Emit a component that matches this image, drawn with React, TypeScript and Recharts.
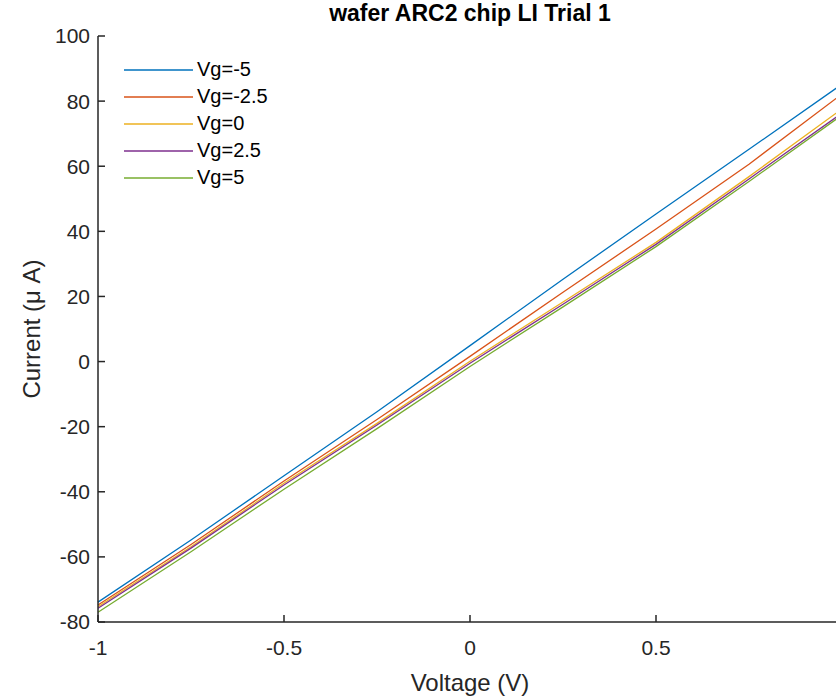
import React from "react";
import { LineChart, Line, XAxis, YAxis } from "recharts";

// gate voltages, one line each
const gateLabels = ["Vg=-5", "Vg=-2.5", "Vg=0", "Vg=2.5", "Vg=5"];
const colors = ["#0072BD", "#D95319", "#EDB120", "#7E2F8E", "#77AC30"];

const voltage = [-1, -0.75, -0.5, -0.25, 0, 0.25, 0.5, 0.75, 1];

const vgMinus5 = [-73.9, -54.8, -35.1, -15.4, 4.9, 25.3, 45.3, 65.2, 85.2];
const vgMinus25 = [-74.8, -56.2, -36.7, -17.8, 1.6, 21.3, 40.7, 60.6, 82.2];
const vg0 = [-75.3, -56.9, -37.4, -19.0, 0.1, 18.3, 36.6, 56.8, 77.6];
const vg25 = [-75.8, -57.3, -37.9, -19.5, -0.5, 17.6, 36.0, 56.1, 76.3];
const vg5 = [-77.0, -58.4, -39.2, -20.6, -1.5, 16.8, 35.3, 55.3, 75.7];

// the figure is cropped just left of x = 1, so that label never shows
const xTicks = [-1, -0.5, 0, 0.5];
const yTicks = [-80, -60, -40, -20, 0, 20, 40, 60, 80, 100];

const series = [vgMinus5, vgMinus25, vg0, vg25, vg5];
const data = voltage.map((v, i) => {
    const row: Record<string, number> = { v };
    series.forEach((s, k) => {
        row["s" + k] = s[i];
    });
    return row;
});

const axisColor = "#262626";
const font = "'Liberation Sans', Arial, sans-serif";

const LegendBox: React.FC = () => (
    <div
        style={{
            position: "absolute",
            left: 124,
            top: 56,
            fontFamily: font,
            fontSize: 20,
            color: "#000",
        }}
    >
        {gateLabels.map((name, i) => (
            <div
                key={name}
                style={{ display: "flex", alignItems: "center", height: 27 }}
            >
                <svg width={73} height={4} style={{ display: "block" }}>
                    <line
                        x1={0}
                        y1={2}
                        x2={69}
                        y2={2}
                        stroke={colors[i]}
                        strokeWidth={1.5}
                    />
                </svg>
                <span>{name}</span>
            </div>
        ))}
    </div>
);

const App: React.FC = () => {
    return (
        <div
            style={{
                position: "absolute",
                left: 0,
                top: 0,
                width: 836,
                height: 698,
                overflow: "hidden",
                background: "#fff",
            }}
        >
            <LineChart
                width={850}
                height={698}
                data={data}
                margin={{ top: 36, right: 8, bottom: 46, left: 38 }}
            >
                <XAxis
                    dataKey="v"
                    type="number"
                    domain={[-1, 1]}
                    ticks={xTicks}
                    height={30}
                    stroke={axisColor}
                    strokeWidth={1.5}
                    tickSize={-7}
                    tickMargin={25}
                    tick={{ fill: axisColor, fontSize: 21, fontFamily: font }}
                />
                <XAxis
                    xAxisId="top"
                    orientation="top"
                    dataKey="v"
                    type="number"
                    domain={[-1, 1]}
                    ticks={xTicks}
                    height={0}
                    stroke={axisColor}
                    strokeWidth={1.5}
                    tickSize={-7}
                    tick={false}
                />
                <YAxis
                    type="number"
                    domain={[-80, 100]}
                    ticks={yTicks}
                    width={60}
                    stroke={axisColor}
                    strokeWidth={1.5}
                    tickSize={-7}
                    tickMargin={15}
                    tick={{ fill: axisColor, fontSize: 21, fontFamily: font }}
                />
                <YAxis
                    yAxisId="right"
                    orientation="right"
                    type="number"
                    domain={[-80, 100]}
                    ticks={yTicks}
                    width={0}
                    stroke={axisColor}
                    strokeWidth={1.5}
                    tickSize={-7}
                    tick={false}
                />
                {series.map((_, k) => (
                    <Line
                        key={k}
                        type="linear"
                        dataKey={"s" + k}
                        name={gateLabels[k]}
                        stroke={colors[k]}
                        strokeWidth={1.3}
                        dot={false}
                        isAnimationActive={false}
                    />
                ))}
                <text
                    x={470}
                    y={21}
                    textAnchor="middle"
                    fontFamily={font}
                    fontWeight="bold"
                    fontSize={23}
                    fill="#000"
                >
                    wafer ARC2 chip LI Trial 1
                </text>
                <text
                    x={470}
                    y={691}
                    textAnchor="middle"
                    fontFamily={font}
                    fontSize={24}
                    fill={axisColor}
                >
                    Voltage (V)
                </text>
                <text
                    x={40}
                    y={329}
                    textAnchor="middle"
                    transform="rotate(-90 40 329)"
                    fontFamily={font}
                    fontSize={24}
                    fill={axisColor}
                >
                    Current (μ A)
                </text>
            </LineChart>
            <LegendBox />
        </div>
    );
};

export default App;
